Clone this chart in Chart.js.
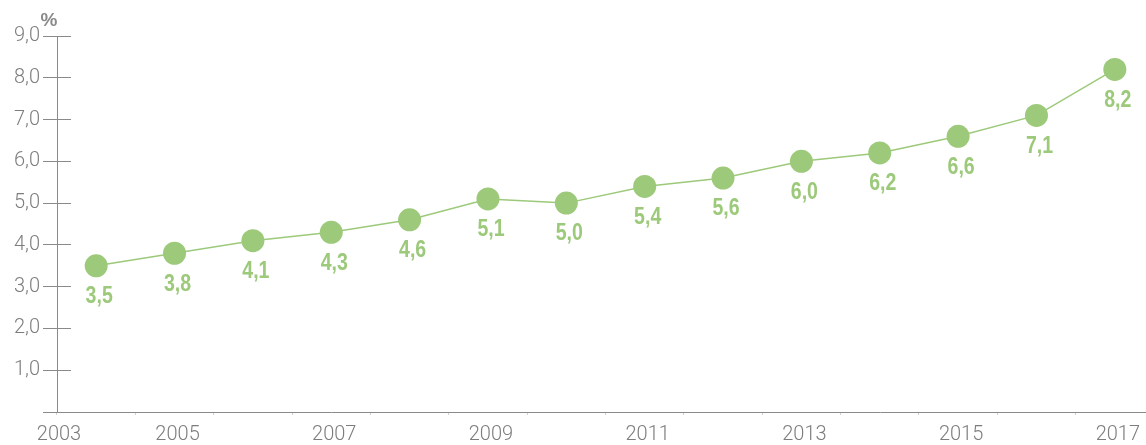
<!DOCTYPE html>
<html>
<head>
<meta charset="utf-8">
<script src="https://cdn.jsdelivr.net/npm/chart.js@4/dist/chart.umd.min.js"></script>
<style>
    html, body { margin: 0; padding: 0; overflow: hidden; background: #fff; }
    #wrap { width: 1154px; height: 445px; }
    #rateChart { display: block; }
</style>
</head>
<body>
<div id="wrap"><canvas id="rateChart" width="1154" height="445"></canvas></div>
<script>
// ==========================================
// DATA
// ==========================================
const years = ['2004', '2005', '2006', '2007', '2008', '2009', '2010', '2011', '2012', '2013', '2014', '2015', '2016', '2017'];
const rates = [3.5, 3.8, 4.1, 4.3, 4.6, 5.1, 5.0, 5.4, 5.6, 6.0, 6.2, 6.6, 7.1, 8.2];
const startLabel = '2003';
const unitLabel = '%';

const GREEN = '#9cc97a';
const GREY = '#8a8a8a';
const TICK_FONT = { family: 'Roboto, "Liberation Sans", sans-serif', size: 20, weight: '300' };
const X_TICK_LEN = 3;
const X_PAD = 8;

// format 5.1 -> "5,1"
function fmt(v) {
    return v.toFixed(1).replace('.', ',');
}

// value labels under each point (condensed bold look)
const valueLabels = {
    id: 'valueLabels',
    afterDatasetsDraw(chart) {
        const ctx = chart.ctx;
        const meta = chart.getDatasetMeta(0);
        const squeeze = 0.85;
        ctx.save();
        ctx.fillStyle = GREEN;
        ctx.font = 'bold 23px "Liberation Sans", Arial, sans-serif';
        ctx.textAlign = 'center';
        ctx.textBaseline = 'middle';
        meta.data.forEach((pt, i) => {
            ctx.save();
            ctx.translate(pt.x + 3, pt.y + 31);
            ctx.scale(squeeze, 1);
            ctx.fillText(fmt(rates[i]), 0, 0);
            ctx.restore();
        });
        ctx.restore();
    }
};

// unit over the y axis + first year at the axis start
const axisExtras = {
    id: 'axisExtras',
    afterDraw(chart) {
        const ctx = chart.ctx;
        const x = chart.scales.x;
        const y = chart.scales.y;
        ctx.save();
        ctx.fillStyle = GREY;
        ctx.font = 'bold 19px "Liberation Sans", sans-serif';
        ctx.textAlign = 'center';
        ctx.textBaseline = 'bottom';
        ctx.fillText(unitLabel, y.right - 8, y.top - 6);

        ctx.font = `${TICK_FONT.weight} ${TICK_FONT.size}px ${TICK_FONT.family}`;
        ctx.fillStyle = '#7d7d7d';
        ctx.textBaseline = 'middle';
        ctx.fillText(startLabel, x.left + 2, x.top + X_TICK_LEN + X_PAD + TICK_FONT.size * 0.6);
        ctx.restore();
    }
};

new Chart(document.getElementById('rateChart'), {
    type: 'line',
    data: {
        labels: years,
        datasets: [{
            data: rates,
            borderColor: GREEN,
            borderWidth: 1.5,
            backgroundColor: GREEN,
            pointBackgroundColor: GREEN,
            pointBorderWidth: 0,
            pointRadius: 11.5,
            pointHoverRadius: 11.5,
            tension: 0,
            clip: false
        }]
    },
    options: {
        responsive: false,
        animation: false,
        layout: { autoPadding: false, padding: { top: 36, left: 0, right: 0, bottom: 0 } },
        plugins: {
            legend: { display: false },
            tooltip: { enabled: false }
        },
        scales: {
            x: {
                offset: true,
                grid: { offset: true, drawOnChartArea: false, tickLength: X_TICK_LEN, color: '#d0d0d0' },
                border: { color: GREY },
                ticks: {
                    autoSkip: false,
                    maxRotation: 0,
                    padding: X_PAD,
                    color: '#7d7d7d',
                    font: TICK_FONT,
                    labelOffset: 3,
                    callback: (val, i) => (i % 2 === 1 ? years[i] : '')
                },
                afterFit: scale => {
                    scale.height = 33;
                    scale.paddingLeft = 0;
                    scale.paddingRight = 0;
                }
            },
            y: {
                min: 0,
                max: 9,
                grid: { drawOnChartArea: true, tickLength: 14, color: GREY },
                border: { color: GREY, dash: [13, 3000] },
                ticks: {
                    stepSize: 1,
                    padding: 3,
                    color: '#7d7d7d',
                    font: TICK_FONT,
                    callback: v => (v === 0 ? '' : fmt(v))
                },
                afterFit: scale => { scale.width = 57; }
            }
        }
    },
    plugins: [valueLabels, axisExtras]
});
</script>
</body>
</html>
